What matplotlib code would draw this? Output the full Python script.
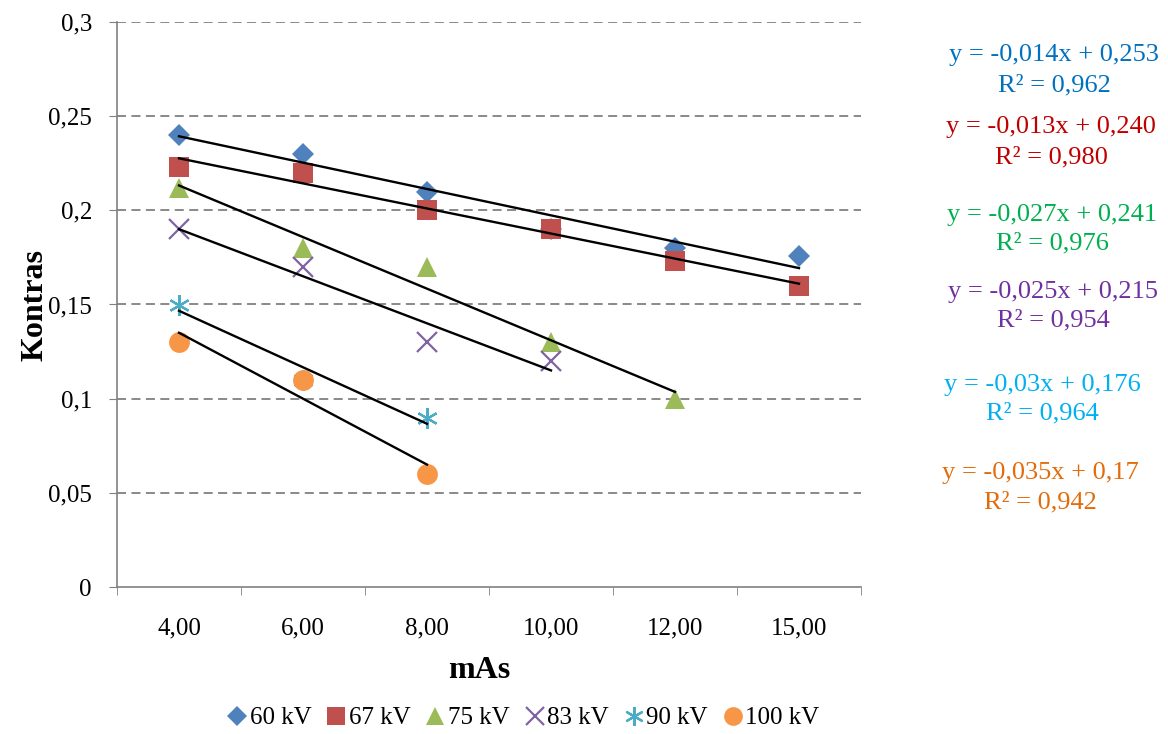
import matplotlib
matplotlib.use("Agg")
import matplotlib.pyplot as plt
from matplotlib.ticker import FixedLocator, FuncFormatter
import numpy as np

plt.rcParams["font.family"] = ["Liberation Serif", "DejaVu Serif"]

# ── data ─────────────────────────────────────────────────────────────────────
categories = ["4,00", "6,00", "8,00", "10,00", "12,00", "15,00"]
kv_60  = [0.240, 0.230, 0.210, 0.190, 0.180, 0.176]
kv_67  = [0.223, 0.220, 0.200, 0.190, 0.173, 0.160]
kv_75  = [0.212, 0.180, 0.170, 0.130, 0.100]
kv_83  = [0.190, 0.170, 0.130, 0.120]
kv_90  = [0.150, 0.110, 0.090]
kv_100 = [0.130, 0.110, 0.060]

labels  = ["60 kV", "67 kV", "75 kV", "83 kV", "90 kV", "100 kV"]
series  = [kv_60, kv_67, kv_75, kv_83, kv_90, kv_100]
eq_text = ["y = -0,014x + 0,253", "y = -0,013x + 0,240", "y = -0,027x + 0,241",
           "y = -0,025x + 0,215", "y = -0,03x + 0,176", "y = -0,035x + 0,17"]
r2_text = ["R² = 0,962", "R² = 0,980", "R² = 0,976",
           "R² = 0,954", "R² = 0,964", "R² = 0,942"]

# ── styles ───────────────────────────────────────────────────────────────────
mk_col  = ["#4F81BD", "#C0504D", "#9BBB59", "#8064A2", "#4BACC6", "#F79646"]
markers = ["D", "s", "^", "x", (6, 2, 0), "o"]
msizes  = [11, 14, 15, 14, 15, 15]
eq_col  = ["#0070C0", "#C00000", "#00B050", "#7030A0", "#00B0F0", "#E36C09"]
eq_pos  = [(1054, 55, 85), (1051, 127, 157), (1052, 215, 243),
           (1053, 292, 320), (1042, 385, 413), (1040, 473, 502)]

W, H = 1168, 734
fig = plt.figure(figsize=(W / 100, H / 100), dpi=100)
ax = fig.add_axes([117 / W, 1 - 587 / H, (861 - 117) / W, (587 - 22) / H])

for k, (vals, lab) in enumerate(zip(series, labels)):
    xs = np.arange(len(vals))
    m = markers[k]
    if k in (3, 4):
        # thin line markers (Excel style x and asterisk)
        ax.plot(xs, vals, ls="none", marker=m, ms=msizes[k], mew=1.6,
                color=mk_col[k], label=lab, zorder=3)
    else:
        ax.plot(xs, vals, ls="none", marker=m, ms=msizes[k], mew=0,
                color=mk_col[k], label=lab, zorder=3)
    # linear trend line, x = 1..n as in Excel
    p = np.polyfit(xs + 1, vals, 1)
    ax.plot([xs[0], xs[-1]], np.polyval(p, [1, len(vals)]),
            color="black", lw=1.7, zorder=4)

ax.set_xlim(-0.5, len(categories) - 0.5)
ax.set_ylim(0, 0.3)

ax.set_xticks(range(len(categories)))
ax.set_xticklabels(categories, fontsize=18)
ax.xaxis.set_minor_locator(FixedLocator(np.arange(-0.5, len(categories), 1.0)))
ax.tick_params(axis="x", which="major", length=0, pad=22)
ax.tick_params(axis="x", which="minor", length=6, color="#808080", direction="out")

yt = np.arange(0, 0.301, 0.05)
ax.set_yticks(yt)
ax.yaxis.set_major_formatter(FuncFormatter(
    lambda v, _: ("%g" % round(v, 2)).replace(".", ",")))
ax.tick_params(axis="y", length=6, color="#808080", direction="out",
               labelsize=18, pad=12)

for v in yt[1:]:
    ax.axhline(v, color="#808080", lw=1.3, ls=(0, (5, 3)), zorder=1)

for s in ("top", "right"):
    ax.spines[s].set_visible(False)
for s in ("left", "bottom"):
    ax.spines[s].set_color("#808080")
    ax.spines[s].set_linewidth(1.2)

fig.text(35 / W, 1 - 305 / H, "Kontras", fontsize=23, fontweight="bold",
         rotation=90, ha="center", va="center")
fig.text(479 / W, 1 - 670 / H, "mAs", fontsize=23, fontweight="bold",
         ha="center", va="center")

for k in range(len(series)):
    x, y1, y2 = eq_pos[k]
    fig.text(x / W, 1 - y1 / H, eq_text[k], fontsize=19, color=eq_col[k],
             ha="center", va="center")
    fig.text(x / W, 1 - y2 / H, r2_text[k], fontsize=19, color=eq_col[k],
             ha="center", va="center")

ax.legend(loc="center", bbox_to_anchor=(522 / W, 1 - 718 / H),
          bbox_transform=fig.transFigure, ncol=6, frameon=False, fontsize=18,
          handletextpad=0.0, columnspacing=0.5, handlelength=1.0, markerscale=0.9,
          borderpad=0.1)

fig.savefig("out.png", dpi=100)
